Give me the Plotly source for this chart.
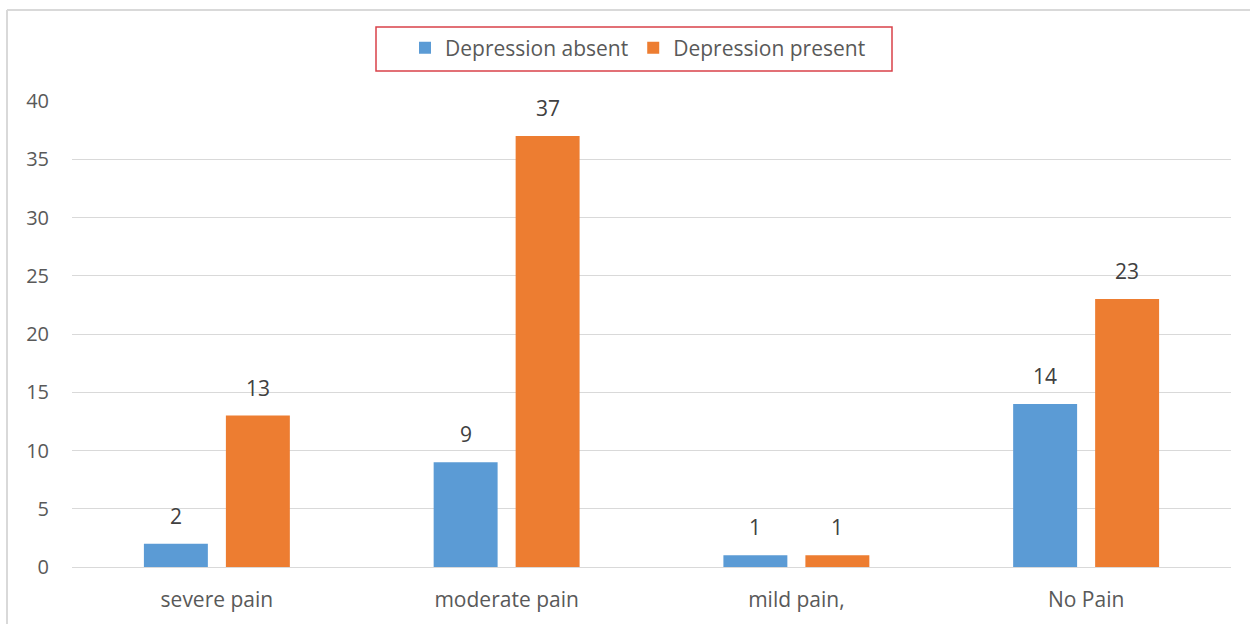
import plotly.graph_objects as go

categories = ["severe pain", "moderate pain", "mild pain,", "No Pain"]
series_names = ["Depression absent", "Depression present"]
absent_values = [2, 9, 1, 14]
present_values = [13, 37, 1, 23]
colors = ["#5b9bd5", "#ed7d31"]
y_ticks = [0, 5, 10, 15, 20, 25, 30, 35, 40]

FONT = "Open Sans"
TXT = "#595959"

fig = go.Figure()
for name, vals, col in zip(series_names, [absent_values, present_values], colors):
    fig.add_trace(go.Bar(x=categories, y=vals, name=name, marker_color=col,
                         marker_line_width=0))

annotations = []
for vals, shift in [(absent_values, -41), (present_values, 41)]:
    for c, v in zip(categories, vals):
        annotations.append(dict(x=c, y=v, text=str(v), showarrow=False, xshift=shift,
                                yanchor="bottom", yshift=12,
                                font=dict(family=FONT, size=21, color="#404040")))

W, H = 1250, 624
L, R, T, B = 72, 19, 101, 57
pw, ph = W - L - R, H - T - B

def px(x):
    return (x - L) / pw

def py(y):
    return (H - B - y) / ph

shapes = [
    dict(type="line", xref="paper", yref="paper", x0=px(7), x1=px(7), y0=py(10), y1=py(630),
         line=dict(color="#d9d9d9", width=2)),
    dict(type="line", xref="paper", yref="paper", x0=px(7), x1=px(1260), y0=py(10), y1=py(10),
         line=dict(color="#d9d9d9", width=2)),
    dict(type="rect", xref="paper", yref="paper", x0=px(376), x1=px(892), y0=py(71), y1=py(27),
         line=dict(color="#d9424a", width=1.5)),
]

fig.update_layout(
    width=W, height=H,
    margin=dict(l=L, r=R, t=T, b=B),
    paper_bgcolor="white", plot_bgcolor="white",
    barmode="group", bargap=0.434, bargroupgap=0.22,
    font=dict(family=FONT, size=21, color=TXT),
    showlegend=True,
    legend=dict(orientation="h", x=px(638), xanchor="center", y=py(48), yanchor="middle",
                font=dict(family=FONT, size=21, color=TXT), bgcolor="rgba(0,0,0,0)",
                borderwidth=0, itemwidth=30),
    annotations=annotations,
    shapes=shapes,
    xaxis=dict(showgrid=False, showline=False, ticks="", ticklabelstandoff=18,
               tickfont=dict(size=21, color=TXT)),
    yaxis=dict(range=[0, 40], tickvals=y_ticks, showgrid=True, gridcolor="#d9d9d9",
               gridwidth=1, zeroline=True, zerolinecolor="#d9d9d9", zerolinewidth=1,
               showline=False, ticks="", ticklabelstandoff=22,
               tickfont=dict(size=20, color=TXT)),
)

fig.write_html("out.html", config={"displayModeBar": False},
               post_script="document.body.style.margin='0';document.body.style.overflow='hidden';")
